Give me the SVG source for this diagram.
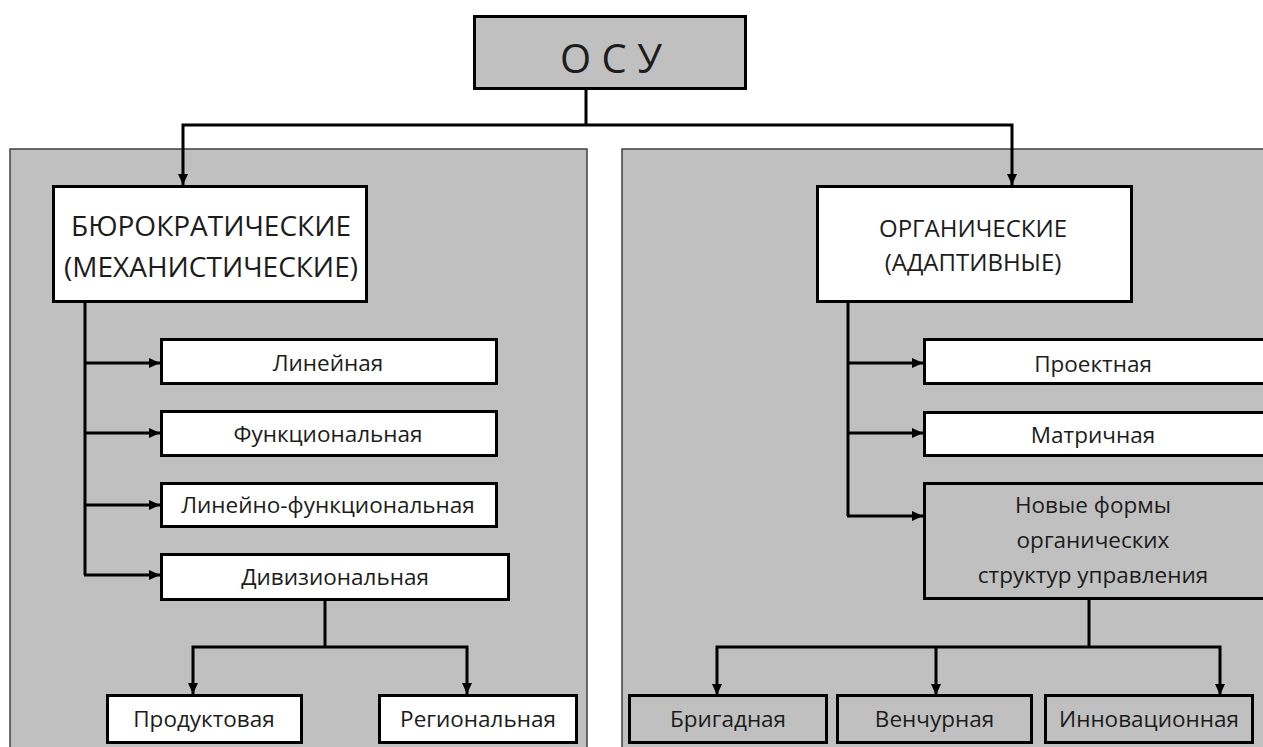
<svg xmlns="http://www.w3.org/2000/svg" width="1263" height="747" viewBox="0 0 1263 747">
<style>
  .panel { fill: #c0c0c0; stroke: #404040; stroke-width: 1.5; }
  .box { fill: #ffffff; stroke: #000; stroke-width: 3; }
  .gbox { fill: #c0c0c0; stroke: #000; stroke-width: 3; }
  .t { font-family: "Open Sans", "Noto Sans", sans-serif; fill: #1c1c1c; text-anchor: middle; }
  .s { font-size: 22.5px; }
  .big { font-size: 28px; }
  .org { font-size: 24px; }
  .con { fill: none; stroke: #000; stroke-width: 3; stroke-linejoin: miter; }
  .arr { marker-end: url(#ah); }
</style>
<defs>
  <marker id="ah" markerUnits="userSpaceOnUse" markerWidth="11" markerHeight="10" refX="11" refY="5" orient="auto">
    <path d="M0,0 L11,5 L0,10 z" fill="#000"/>
  </marker>
</defs>
<rect width="1263" height="747" fill="#ffffff"/>
<g id="panel-left"><rect class="panel" x="10" y="149" width="577" height="700"/></g>
<g id="panel-right"><rect class="panel" x="622" y="149" width="700" height="700"/></g>

<g id="connectors">
  <path class="con" d="M586,90 V125"/>
  <path class="con arr" d="M586,125 H183 V185"/>
  <path class="con arr" d="M586,125 H1012 V185"/>
  <path class="con" d="M85,303 V575"/>
  <path class="con arr" d="M85,363 H160"/>
  <path class="con arr" d="M85,433 H160"/>
  <path class="con arr" d="M85,505 H160"/>
  <path class="con arr" d="M84,575 H160"/>
  <path class="con" d="M325,601 V647"/>
  <path class="con arr" d="M325,647 H193 V694"/>
  <path class="con arr" d="M325,647 H467 V694"/>
  <path class="con" d="M848,303 V516"/>
  <path class="con arr" d="M848,363 H923"/>
  <path class="con arr" d="M848,433 H923"/>
  <path class="con arr" d="M847,516 H923"/>
  <path class="con" d="M1089,600 V647"/>
  <path class="con arr" d="M1089,647 H717 V695"/>
  <path class="con arr" d="M936,647 V695"/>
  <path class="con arr" d="M1089,647 H1220 V695"/>
</g>

<g id="osu">
  <rect class="gbox" x="474.5" y="16.5" width="271" height="72"/>
  <text class="t" x="611" y="73" style="font-size:40px">О С У</text>
</g>
<g id="bureaucratic">
  <rect class="box" x="53.5" y="186.5" width="313" height="115"/>
  <text class="t big" x="211" y="236">БЮРОКРАТИЧЕСКИЕ</text>
  <text class="t big" x="211" y="277">(МЕХАНИСТИЧЕСКИЕ)</text>
</g>
<g id="organic">
  <rect class="box" x="817.5" y="186.5" width="314" height="115"/>
  <text class="t org" x="973" y="237">ОРГАНИЧЕСКИЕ</text>
  <text class="t org" x="973" y="271">(АДАПТИВНЫЕ)</text>
</g>
<g id="linear">
  <rect class="box" x="161.5" y="339.5" width="335" height="44"/>
  <text class="t s" x="328" y="371">Линейная</text>
</g>
<g id="functional">
  <rect class="box" x="161.5" y="411.5" width="335" height="44"/>
  <text class="t s" x="328" y="442">Функциональная</text>
</g>
<g id="linear-functional">
  <rect class="box" x="161.5" y="483.5" width="335" height="43"/>
  <text class="t s" x="328" y="513">Линейно-функциональная</text>
</g>
<g id="divisional">
  <rect class="box" x="161.5" y="554.5" width="347" height="45"/>
  <text class="t s" x="335" y="585">Дивизиональная</text>
</g>
<g id="product">
  <rect class="box" x="107.5" y="695.5" width="194" height="47"/>
  <text class="t s" x="204" y="727">Продуктовая</text>
</g>
<g id="regional">
  <rect class="box" x="379.5" y="695.5" width="197" height="47"/>
  <text class="t s" x="478" y="727">Региональная</text>
</g>
<g id="project">
  <rect class="box" x="924.5" y="339.5" width="340" height="44"/>
  <text class="t s" x="1093" y="372">Проектная</text>
</g>
<g id="matrix">
  <rect class="box" x="924.5" y="412.5" width="340" height="43"/>
  <text class="t s" x="1093" y="443">Матричная</text>
</g>
<g id="new-forms">
  <rect class="gbox" x="924.5" y="483.5" width="340" height="115"/>
  <text class="t s" x="1093" y="513">Новые формы</text>
  <text class="t s" x="1093" y="548">органических</text>
  <text class="t s" x="1093" y="583">структур управления</text>
</g>
<g id="brigade">
  <rect class="gbox" x="629.5" y="695.5" width="197" height="47"/>
  <text class="t s" x="728" y="727">Бригадная</text>
</g>
<g id="venture">
  <rect class="gbox" x="837.5" y="695.5" width="194" height="47"/>
  <text class="t s" x="934.5" y="727">Венчурная</text>
</g>
<g id="innovation">
  <rect class="gbox" x="1045.5" y="695.5" width="207" height="47"/>
  <text class="t s" x="1149" y="727">Инновационная</text>
</g>
</svg>
